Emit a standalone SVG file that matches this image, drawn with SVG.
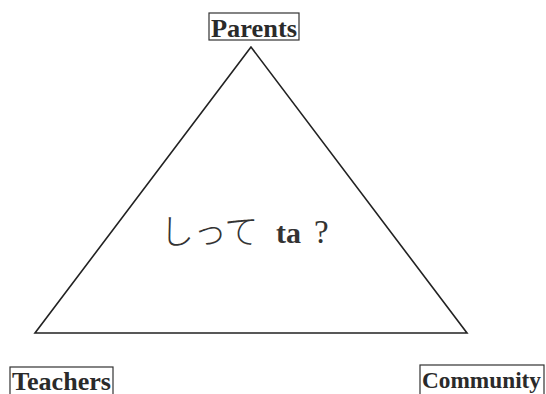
<svg xmlns="http://www.w3.org/2000/svg" width="546" height="394" viewBox="0 0 546 394">
<style>
.box{fill:#fff;stroke:#333;stroke-width:1.2}
.lbl{font-family:"Liberation Serif",serif;font-weight:bold;font-size:25px;fill:#2a2a2a}
.lbl.sm{font-size:23px}
.edge{fill:none;stroke:#222;stroke-width:1.6;stroke-linejoin:miter}
</style>
<rect width="546" height="394" fill="#fff"/>
<g id="connectors">
<polygon class="edge" points="251,47 35,333 467,333"/>
</g>
<g id="parents">
<rect class="box" x="209" y="13" width="90" height="27"/>
<text class="lbl" x="211" y="37" textLength="86" lengthAdjust="spacingAndGlyphs">Parents</text>
</g>
<g id="teachers">
<rect class="box" x="10" y="367" width="103" height="30"/>
<text class="lbl" x="12" y="390" textLength="99" lengthAdjust="spacingAndGlyphs">Teachers</text>
</g>
<g id="community">
<rect class="box" x="420" y="365" width="124" height="32"/>
<text class="lbl sm" x="422" y="388" textLength="119" lengthAdjust="spacingAndGlyphs">Community</text>
</g>
<g id="center">
<text x="160" y="244" font-family="'Noto Sans CJK JP',sans-serif" font-weight="300" font-size="34" letter-spacing="-1" fill="#333">しって</text>
<text x="276" y="243" font-family="'Liberation Serif',serif" font-weight="bold" font-size="30" fill="#333">ta</text>
<text x="314" y="243" font-family="'Liberation Serif',serif" font-size="33" fill="#333">?</text>
</g>
</svg>
